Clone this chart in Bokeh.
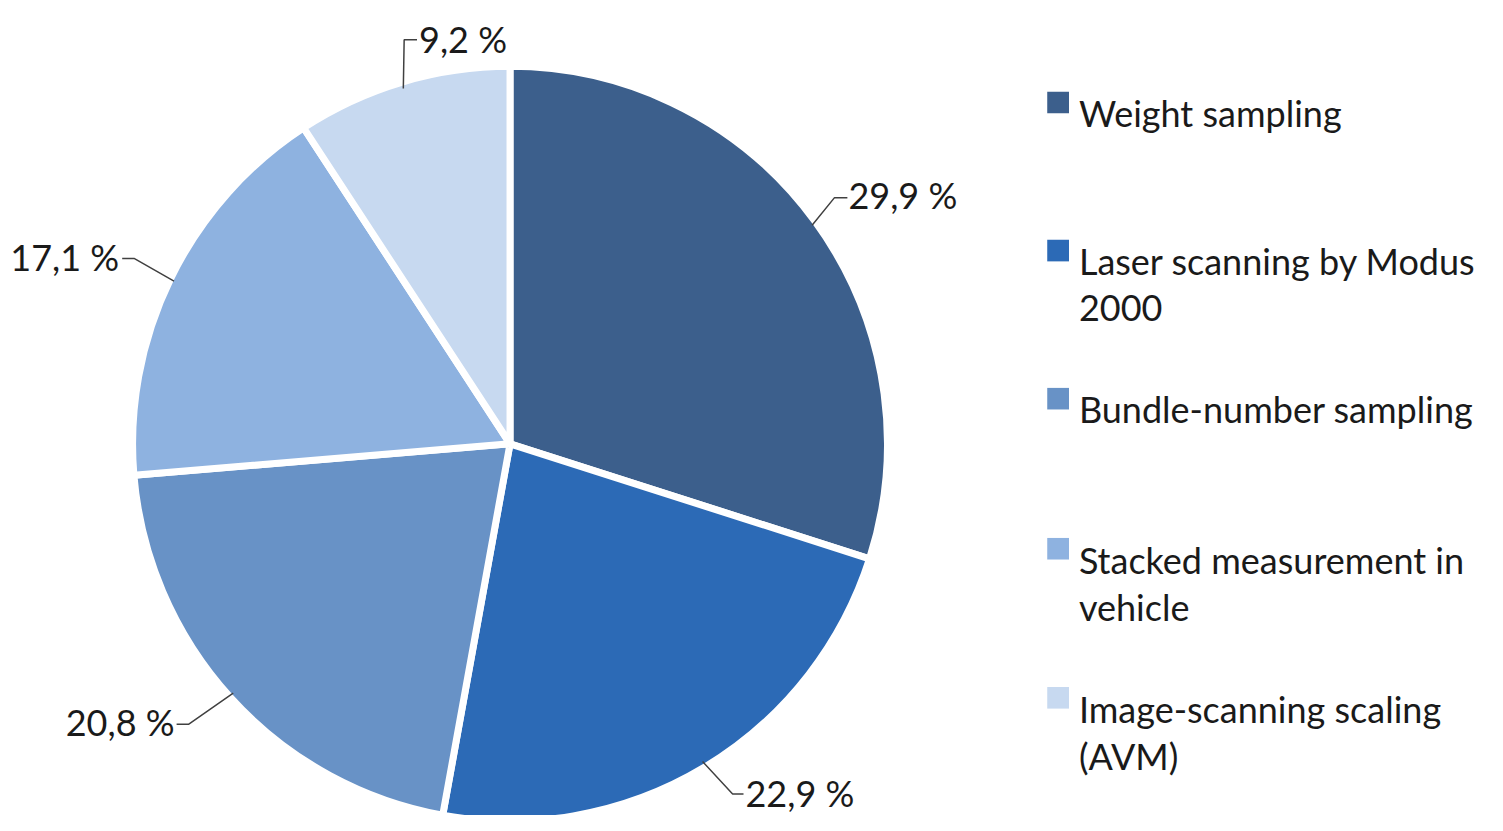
import math
from bokeh.plotting import figure
from bokeh.models import Range1d, ColumnDataSource
from bokeh.core.properties import value
from bokeh.embed import file_html
from bokeh.resources import INLINE

# ---- data ----
categories = ["Weight sampling", "Laser scanning by Modus\n2000", "Bundle-number sampling",
              "Stacked measurement in\nvehicle", "Image-scanning scaling\n(AVM)"]
shares = [29.9, 22.9, 20.8, 17.1, 9.2]
label_texts = ["29,9 %", "22,9 %", "20,8 %", "17,1 %", "9,2 %"]
colors = ["#3C5F8C", "#2C6AB6", "#6892C6", "#8EB2E0", "#C7D9F0"]

# ---- layout (reference-pixel coordinates; y measured from top) ----
W, H = 1503, 831
def Y(sy):
    return H - sy

cx, cy, r = 515, 452, 378
gap = 7
FONT = "Lato"
FS = "36px"

p = figure(width=1487, height=815, output_backend="svg", toolbar_location=None,
           x_range=Range1d(0, W), y_range=Range1d(0, H), min_border=0)
p.axis.visible = False
p.grid.visible = False
p.outline_line_color = None
p.background_fill_color = "white"
p.border_fill_color = "white"

total = sum(shares)
starts, ends, mids = [], [], []
cum = 0.0
for s in shares:
    a0 = math.pi / 2 - 2 * math.pi * cum / total
    cum += s
    a1 = math.pi / 2 - 2 * math.pi * cum / total
    starts.append(a0)
    ends.append(a1)
    mids.append((a0 + a1) / 2)

src = ColumnDataSource(dict(start=starts, end=ends, color=colors))
p.wedge(x=cx, y=Y(cy), radius=r + gap / 2, start_angle="start", end_angle="end",
        direction="clock", fill_color="color", line_color="white", line_width=gap, source=src)

# data labels with leader lines: (elbow, end of horizontal, text anchor, align)
leader = [
    ((843, 201), (856, 201), (857, 198), "left"),
    ((740, 809), (751, 809), (753, 808), "left"),
    ((190, 738), (178, 738), (176, 736), "right"),
    ((135, 263), (123, 263), (120, 262), "right"),
    ((408, 40), (421, 40), (423, 39), "left"),
]
for m, (elb, endp, tpos, align), txt in zip(mids, leader, label_texts):
    sx = cx + r * math.cos(m)
    sy = cy - r * math.sin(m)
    p.line([sx, elb[0], endp[0]], [Y(sy), Y(elb[1]), Y(endp[1])],
           line_color="#404040", line_width=1.5)
    p.text(x=[tpos[0]], y=[Y(tpos[1])], text=[txt], text_font=value(FONT),
           text_font_size=FS, text_color="#1a1a1a", text_align=align,
           text_baseline="alphabetic")

# legend
legend_baselines = [115, 266, 417, 570, 722]
line_step = 48
sq = 22
for cat, col, base in zip(categories, colors, legend_baselines):
    p.rect(x=[1069], y=[Y(base - sq / 2)], width=sq, height=sq,
           fill_color=col, line_color=None)
    for i, ln in enumerate(cat.split("\n")):
        p.text(x=[1090], y=[Y(base + i * line_step)], text=[ln], text_font=value(FONT),
               text_font_size=FS, text_color="#1a1a1a", text_align="left",
               text_baseline="alphabetic")

open("out.html", "w").write(file_html(p, INLINE))
